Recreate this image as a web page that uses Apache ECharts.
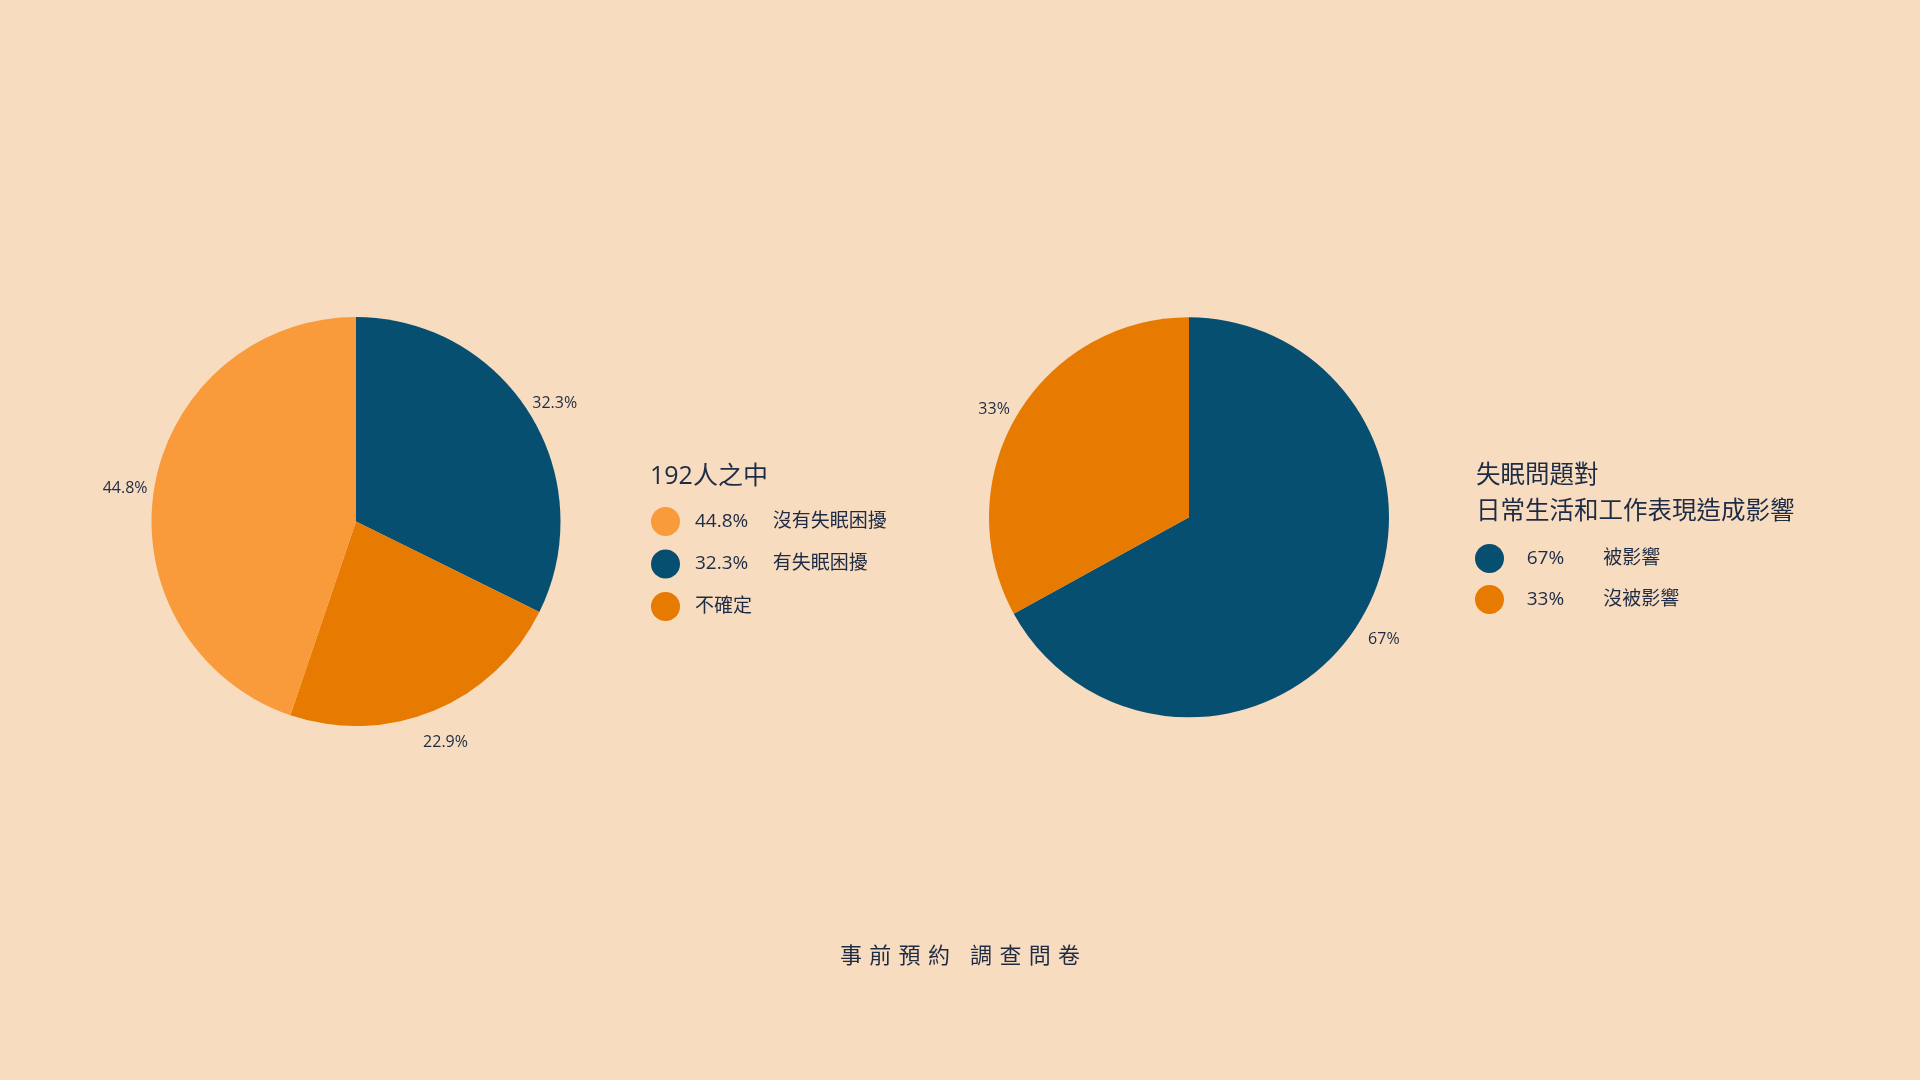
<!DOCTYPE html>
<html>
<head>
<meta charset="utf-8">
<script src="https://cdn.jsdelivr.net/npm/echarts@6/dist/echarts.min.js"></script>
<style>
  html, body { margin: 0; padding: 0; background: #F7DCBF; }
  #chart { width: 1920px; height: 1080px; }
</style>
</head>
<body>
<div id="chart"></div>
<script>
// ---- data ----
const leftTitle = '192人之中';
const leftNames = ['有失眠困擾', '不確定', '沒有失眠困擾'];
const leftValues = [32.3, 22.9, 44.8];
const leftColors = ['#074F71', '#E77A00', '#F99B3B'];
const leftLegendOrder = ['沒有失眠困擾', '有失眠困擾', '不確定'];
const leftLegendNoPct = ['不確定'];

const rightTitle = '失眠問題對\n日常生活和工作表現造成影響';
const rightNames = ['被影響', '沒被影響'];
const rightValues = [67, 33];
const rightColors = ['#074F71', '#E77A00'];
const rightLegendOrder = ['被影響', '沒被影響'];

const footerText = '事\u2004前\u2004預\u2004約\u2002\u2005\u2006調\u2004查\u2004問\u2004卷';

// ---- styles ----
const FONT = '"Open Sans", "Noto Sans CJK TC", sans-serif';
const TEXT = '#1E2B45';
const BG = '#F7DCBF';

function pieData(names, values, colors) {
  return names.map((n, i) => ({ name: n, value: values[i], itemStyle: { color: colors[i] } }));
}
function ringData(names, values) {
  return names.map((n, i) => ({ name: n, value: values[i] }));
}
function legendFormatter(names, values, noPct) {
  return function (name) {
    const i = names.indexOf(name);
    if (noPct.indexOf(name) >= 0) return '{s| }{n|' + name + '}';
    return '{s| }{p|' + values[i] + '%}{n|' + name + '}';
  };
}
function legendRich(spacer, col) {
  return {
    s: { width: spacer, fontSize: 19, fontFamily: FONT, color: TEXT },
    p: { width: col, fontSize: 19, fontFamily: FONT, color: TEXT },
    n: { fontSize: 19, fontFamily: FONT, color: TEXT }
  };
}

const chart = echarts.init(document.getElementById('chart'), null, { renderer: 'canvas' });
const option = {
  backgroundColor: BG,
  animation: false,
  title: [
    {
      text: leftTitle, left: 650, top: 462, padding: 0,
      textStyle: { fontFamily: FONT, fontSize: 25, fontWeight: 'normal', color: TEXT, lineHeight: 30 }
    },
    {
      text: rightTitle, left: 1476, top: 457.5, padding: 0,
      textStyle: { fontFamily: FONT, fontSize: 24.5, fontWeight: 'normal', color: TEXT, lineHeight: 36.6 }
    },
    {
      text: footerText, left: 'center', top: 942, padding: 0,
      textStyle: { fontFamily: FONT, fontSize: 22, fontWeight: 'normal', color: TEXT, lineHeight: 30 }
    }
  ],
  legend: [
    {
      data: leftLegendOrder,
      orient: 'vertical', left: 651, top: 507, padding: 0,
      itemWidth: 29, itemHeight: 29, itemGap: 13.5, icon: 'circle',
      selectedMode: false,
      formatter: legendFormatter(leftNames, leftValues, leftLegendNoPct),
      textStyle: { fontFamily: FONT, fontSize: 19, color: TEXT, rich: legendRich(10, 77.7) }
    },
    {
      data: rightLegendOrder,
      orient: 'vertical', left: 1475, top: 544, padding: 0,
      itemWidth: 29, itemHeight: 29, itemGap: 12, icon: 'circle',
      selectedMode: false,
      formatter: legendFormatter(rightNames, rightValues, []),
      textStyle: { fontFamily: FONT, fontSize: 19, color: TEXT, rich: legendRich(17.7, 76.6) }
    }
  ],
  series: [
    {
      type: 'pie', center: [356, 521.5], radius: [0, 204.5],
      startAngle: 90, clockwise: true, silent: true,
      label: { show: false }, labelLine: { show: false },
      data: pieData(leftNames, leftValues, leftColors)
    },
    {
      type: 'pie', center: [1189, 517.3], radius: [0, 200],
      startAngle: 90, clockwise: true, silent: true,
      label: { show: false }, labelLine: { show: false },
      data: pieData(rightNames, rightValues, rightColors)
    },
    {
      type: 'pie', center: [356, 521.5], radius: [216, 246],
      startAngle: 90, clockwise: true, silent: true,
      itemStyle: { color: 'rgba(0,0,0,0)' },
      label: { show: true, position: 'inside', formatter: '{c}%', fontFamily: FONT, fontSize: 16, color: TEXT, offset: [0, 5] },
      labelLine: { show: false },
      emphasis: { disabled: true },
      data: ringData(leftNames, leftValues)
    },
    {
      type: 'pie', center: [1189, 517.3], radius: [208.4, 238.4],
      startAngle: 90, clockwise: true, silent: true,
      itemStyle: { color: 'rgba(0,0,0,0)' },
      label: { show: true, position: 'inside', formatter: '{c}%', fontFamily: FONT, fontSize: 16, color: TEXT, offset: [0, 7] },
      labelLine: { show: false },
      emphasis: { disabled: true },
      data: ringData(rightNames, rightValues)
    }
  ]
};
chart.setOption(option);
</script>
</body>
</html>
